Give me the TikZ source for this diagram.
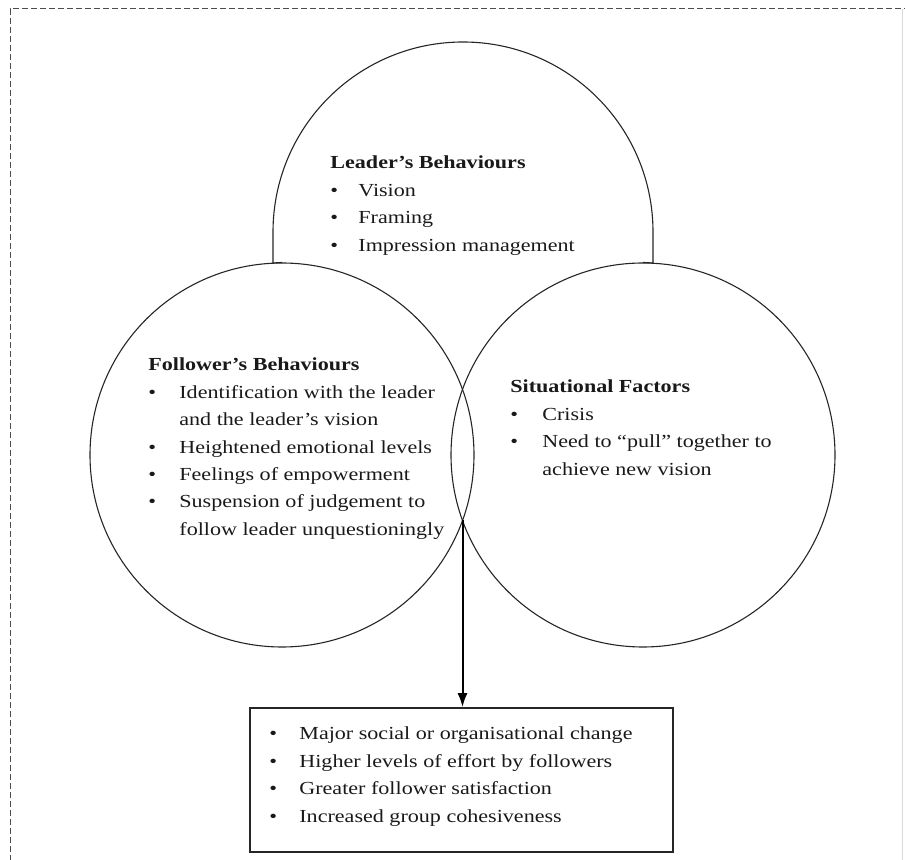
\documentclass[tikz,border=0pt]{standalone}
\usepackage{fontspec}
\setmainfont[FakeStretch=1.2]{Liberation Serif}
\usetikzlibrary{arrows.meta}

\newcommand\bodyfont{\fontsize{9.2}{13.7}\selectfont}

\begin{document}
\begin{tikzpicture}[x=0.5pt,y=-0.5pt,
  ring/.style={circle, draw=black!85, line width=0.55pt, minimum size=192pt, inner sep=0pt},
  outline/.style={draw=black!85, line width=0.55pt},
  listtxt/.style={anchor=base west, inner sep=0pt, align=left, font=\bodyfont, text=black!90},
  resultbox/.style={draw=black!85, line width=0.8pt, minimum width=211.5pt, minimum height=72pt, inner sep=0pt},
  leadsto/.style={line width=1pt, -{Latex[length=7pt,width=5pt]}},
  frame/.style={draw=black!70, line width=0.5pt, dash pattern=on 3pt off 1.5pt}]

\useasboundingbox (0,0) rectangle (905,860);
\clip (0,0) rectangle (905,860);

% dashed outer frame, its right side only faintly printed
\draw[frame] (10,870) -- (10,9) -- (905,9);
\draw[black!15, line width=0.5pt] (902,9) -- (902,870);

% the two lower circles
\node[ring] (foll) at (282,455) {};
\node[ring] (sit)  at (643,455) {};

% upper half circle on two short posts
\draw[outline] (foll.north) -- (273,263) -- (273,232)
  arc[start angle=180, end angle=0, radius=95pt] -- (653,263) -- (sit.north);

% texts of the three circles
\node[listtxt] (leadtxt) at (330,169) {\begin{tabular}[t]{@{}p{14pt}@{}l@{}}
\multicolumn{2}{@{}l@{}}{\textbf{Leader’s Behaviours}}\\
\textbullet & Vision\\
\textbullet & Framing\\
\textbullet & Impression management
\end{tabular}};

\node[listtxt] (folltxt) at (148,371) {\begin{tabular}[t]{@{}p{15.5pt}@{}l@{}}
\multicolumn{2}{@{}l@{}}{\textbf{Follower’s Behaviours}}\\
\textbullet & Identification with the leader\\
 & and the leader’s vision\\
\textbullet & Heightened emotional levels\\
\textbullet & Feelings of empowerment\\
\textbullet & Suspension of judgement to\\
 & follow leader unquestioningly
\end{tabular}};

\node[listtxt] (sittxt) at (510,393) {\begin{tabular}[t]{@{}p{16pt}@{}l@{}}
\multicolumn{2}{@{}l@{}}{\textbf{Situational Factors}}\\
\textbullet & Crisis\\
\textbullet & Need to “pull” together to\\
 & achieve new vision
\end{tabular}};

% outcome box
\node[resultbox] (outbox) at (461.5,780) {};
\node[listtxt] (outtxt) at (269,740) {\begin{tabular}[t]{@{}p{15pt}@{}l@{}}
\textbullet & Major social or organisational change\\
\textbullet & Higher levels of effort by followers\\
\textbullet & Greater follower satisfaction\\
\textbullet & Increased group cohesiveness
\end{tabular}};

% arrow from the lower meeting point of the circles to the box
\coordinate (meet) at (462.5,520);
\draw[leadsto] (meet) -- (meet |- outbox.north);

\end{tikzpicture}
\end{document}
